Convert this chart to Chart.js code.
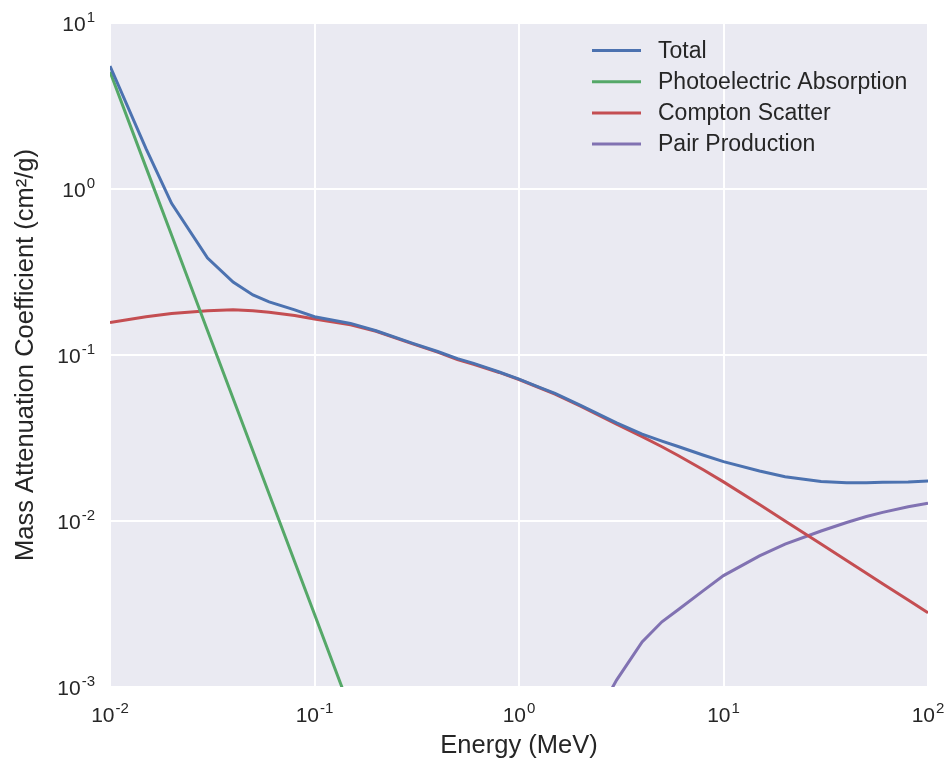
<!DOCTYPE html>
<html>
<head>
<meta charset="utf-8">
<script src="https://cdn.jsdelivr.net/npm/chart.js@4.4.0/dist/chart.umd.min.js"></script>
<style>
  body { margin: 0; background: #fff; }
</style>
</head>
<body>
<canvas id="chart" width="950" height="765"></canvas>
<script>
// photon energies (MeV) and mass attenuation coefficients (cm2/g)
const energies = [0.01, 0.015, 0.02, 0.03, 0.04, 0.05, 0.06, 0.08, 0.1, 0.15, 0.2, 0.3, 0.4, 0.5, 0.6, 0.8,
                  1, 1.25, 1.5, 2, 3, 4, 5, 6, 8, 10, 15, 20, 30, 40, 50, 60, 80, 100];

const total = [5.5, 1.75, 0.82, 0.384, 0.275, 0.23, 0.209, 0.187, 0.170, 0.155, 0.140, 0.118, 0.105, 0.095, 0.089, 0.079,
               0.0715, 0.0641, 0.0587, 0.0497, 0.0390, 0.0334, 0.0303, 0.0281, 0.0249, 0.0228, 0.0200, 0.0185, 0.0173, 0.0170, 0.0170, 0.0171, 0.0172, 0.0174];

const photoelectric = [5.09, 1.35, 0.528, 0.140, 0.0547, 0.0264, 0.01455, 0.00568, 0.00274, 0.000727, null, null, null, null, null, null,
                       null, null, null, null, null, null, null, null, null, null, null, null, null, null, null, null, null, null];

const compton = [0.157, 0.170, 0.178, 0.185, 0.187, 0.185, 0.181, 0.173, 0.165, 0.152, 0.139, 0.117, 0.104, 0.094, 0.088, 0.0785,
                 0.0712, 0.0637, 0.0582, 0.0492, 0.0383, 0.0322, 0.0280, 0.0248, 0.0203, 0.0172, 0.01256, 0.0100, 0.00726, 0.00578, 0.00484, 0.00419, 0.00334, 0.0028];

const pairProduction = [null, null, null, null, null, null, null, null, null, null, null, null, null, null, null, null,
                        null, null, null, 0.00045, 0.0011, 0.00187, 0.00247, 0.00292, 0.00382, 0.00469, 0.00617, 0.00726, 0.0087, 0.0098, 0.01064, 0.01127, 0.0122, 0.0128];

const xTicks = [0.01, 0.1, 1, 10, 100];
const yTicks = [0.001, 0.01, 0.1, 1, 10];

const seriesNames = ['Total', 'Photoelectric Absorption', 'Compton Scatter', 'Pair Production'];
const seriesColors = ['#4C72B0', '#55A868', '#C44E52', '#8172B2'];

const FONT = '"Liberation Sans", Arial, sans-serif';
const TEXT = '#262626';

const points = vals => energies.map((e, i) => ({ x: e, y: vals[i] })).filter(p => p.y !== null);

// grey plot background, seaborn style
const bgPlugin = {
  id: 'bg',
  beforeDraw(chart) {
    const { ctx, chartArea: a } = chart;
    ctx.save();
    ctx.fillStyle = '#EAEAF2';
    ctx.fillRect(a.left, a.top, a.width, a.height);
    ctx.restore();
  }
};

// 10^n tick labels
const powerLabels = {
  id: 'powerLabels',
  afterDraw(chart) {
    const { ctx, chartArea: a, scales: { x, y } } = chart;
    ctx.save();
    ctx.fillStyle = TEXT;
    ctx.textBaseline = 'alphabetic';
    ctx.textAlign = 'left';
    const drawPow = (v, px, baseY, center) => {
      const exp = String(Math.round(Math.log10(v)));
      ctx.font = '21px ' + FONT;
      const wb = ctx.measureText('10').width;
      ctx.font = '15px ' + FONT;
      const we = ctx.measureText(exp).width;
      const w = wb + 1 + we;
      const left = center ? px - w / 2 : px - w;
      ctx.font = '21px ' + FONT;
      ctx.fillText('10', left, baseY);
      ctx.font = '15px ' + FONT;
      ctx.fillText(exp, left + wb + 1, baseY - 9);
    };
    xTicks.forEach(v => drawPow(v, x.getPixelForValue(v), a.bottom + 35, true));
    yTicks.forEach(v => drawPow(v, a.left - 15, y.getPixelForValue(v) + 8, false));
    ctx.restore();
  }
};

// legend inside the upper right of the plot
const legendPlugin = {
  id: 'innerLegend',
  afterDatasetsDraw(chart) {
    const { ctx, chartArea: a } = chart;
    ctx.save();
    ctx.font = '23px ' + FONT;
    ctx.textBaseline = 'middle';
    chart.data.datasets.forEach((ds, i) => {
      const yy = a.top + 27.5 + i * 31.2;
      ctx.strokeStyle = ds.borderColor;
      ctx.lineWidth = 3;
      ctx.beginPath();
      ctx.moveTo(a.right - 336, yy);
      ctx.lineTo(a.right - 287, yy);
      ctx.stroke();
      ctx.fillStyle = TEXT;
      ctx.fillText(ds.label, a.right - 270, yy + 1);
    });
    ctx.restore();
  }
};

const series = [total, photoelectric, compton, pairProduction];

new Chart(document.getElementById('chart'), {
  type: 'line',
  data: {
    datasets: series.map((vals, i) => ({
      label: seriesNames[i],
      data: points(vals),
      borderColor: seriesColors[i],
      borderWidth: 3,
      pointRadius: 0,
      fill: false,
      tension: 0,
      clip: 0
    }))
  },
  options: {
    responsive: false,
    animation: false,
    events: [],
    layout: { padding: { left: 0, right: 22, top: 23, bottom: 0 } },
    plugins: { legend: { display: false }, tooltip: { enabled: false } },
    scales: {
      x: {
        type: 'logarithmic',
        min: 0.01,
        max: 100,
        afterBuildTicks: s => { s.ticks = xTicks.map(v => ({ value: v })); },
        afterFit: s => { s.height = 78; },
        ticks: { display: false },
        grid: { color: '#ffffff', lineWidth: 2, drawTicks: false },
        border: { display: false },
        title: { display: true, text: 'Energy (MeV)', color: TEXT, font: { family: FONT, size: 25.5 }, padding: { top: 0, bottom: 4 } }
      },
      y: {
        type: 'logarithmic',
        min: 0.001,
        max: 10,
        afterBuildTicks: s => { s.ticks = yTicks.map(v => ({ value: v })); },
        afterFit: s => { s.width = 110; },
        ticks: { display: false },
        grid: { color: '#ffffff', lineWidth: 2, drawTicks: false },
        border: { display: false },
        title: { display: true, text: 'Mass Attenuation Coefficient (cm²/g)', color: TEXT, font: { family: FONT, size: 25.5 }, padding: { top: 11, bottom: 0 } }
      }
    }
  },
  plugins: [bgPlugin, powerLabels, legendPlugin]
});
</script>
</body>
</html>
